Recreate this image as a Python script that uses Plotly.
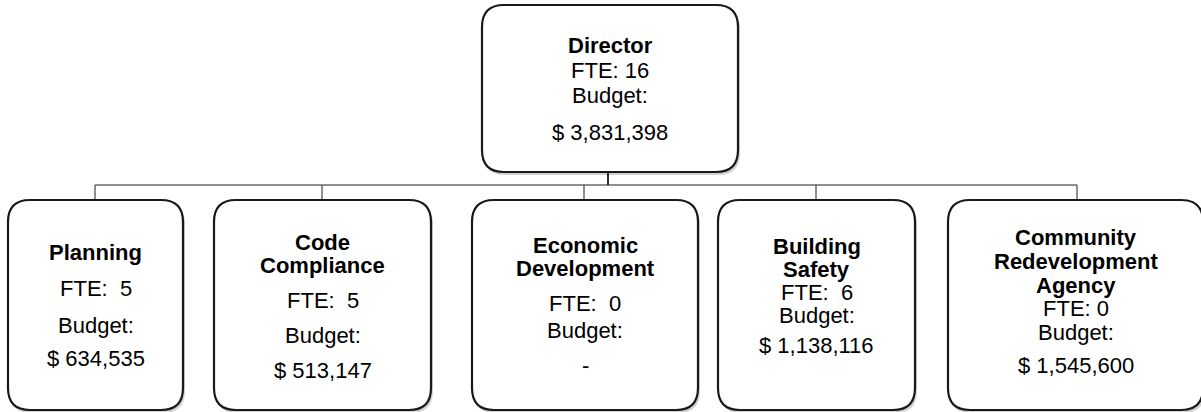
import plotly.graph_objects as go

# ---------------- data ----------------
units = ["Director", "Planning", "Code Compliance", "Economic Development",
         "Building Safety", "Community Redevelopment Agency"]
title_lines = [["Director"], ["Planning"], ["Code", "Compliance"],
               ["Economic", "Development"], ["Building", "Safety"],
               ["Community", "Redevelopment", "Agency"]]
fte = [16, 5, 5, 0, 6, 0]
budget = [3831398, 634535, 513147, 0, 1138116, 1545600]

# ---------------- layout (positions / styles) ----------------
W, H = 1201, 412
# box extents in pixels: (x0, x1, y0, y1)
boxes = [
    (482, 738, 5, 172),
    (8, 183, 200, 410),
    (214, 431, 200, 410),
    (472, 698, 200, 410),
    (718, 915, 200, 410),
    (948, 1203, 200, 410),
]
connector_x = [608, 95, 322, 584, 816, 1077]
bus_y = 185
# vertical centres of text lines: title lines..., FTE, Budget:, amount
line_y = [
    [45, 70, 95, 132],
    [252, 288, 325, 358],
    [242, 265, 300, 335, 370],
    [245, 268, 303, 330, 365],
    [246, 269, 292, 315, 345],
    [237, 261, 285, 308, 332, 365],
]
fte_sep = [" ", "\u00a0 ", "\u00a0 ", "\u00a0 ", "\u00a0 ", " "]
FONT = "Liberation Sans, Arial, sans-serif"
FS = 22
RADIUS = 22


def rrect(x0, x1, y0, y1, r):
    return (f"M {x0+r},{y0} L {x1-r},{y0} Q {x1},{y0} {x1},{y0+r} "
            f"L {x1},{y1-r} Q {x1},{y1} {x1-r},{y1} L {x0+r},{y1} "
            f"Q {x0},{y1} {x0},{y1-r} L {x0},{y0+r} Q {x0},{y0} {x0+r},{y0} Z")


shapes = []
annotations = []

# connectors
dx0, dx1, dy0, dy1 = boxes[0]
shapes.append(dict(type="line", x0=connector_x[0], x1=connector_x[0], y0=dy1, y1=bus_y,
                   line=dict(color="#1a1a1a", width=1.8), layer="below"))
shapes.append(dict(type="line", x0=min(connector_x[1:]), x1=max(connector_x[1:]), y0=bus_y, y1=bus_y,
                   line=dict(color="#222", width=1.2), layer="below"))
for i in range(1, len(units)):
    shapes.append(dict(type="line", x0=connector_x[i], x1=connector_x[i], y0=bus_y, y1=boxes[i][2],
                       line=dict(color="#444", width=1.2), layer="below"))

for i, (x0, x1, y0, y1) in enumerate(boxes):
    # shadow
    shapes.append(dict(type="path", path=rrect(x0 + 1, x1 + 2, y0 + 2, y1 + 3, RADIUS),
                       fillcolor="rgba(0,0,0,0.18)", line=dict(width=0), layer="below"))
    shapes.append(dict(type="path", path=rrect(x0, x1, y0, y1, RADIUS),
                       fillcolor="white", line=dict(color="#1a1a1a", width=2.2), layer="below"))
    cx = (x0 + x1) / 2
    amount = "-" if budget[i] == 0 else f"$ {budget[i]:,}"
    texts = [(t, True) for t in title_lines[i]] + [
        (f"FTE:{fte_sep[i]}{fte[i]}", False), ("Budget:", False), (amount, False)]
    for (t, bold), yy in zip(texts, line_y[i]):
        annotations.append(dict(
            x=cx, y=yy, xref="x", yref="y", showarrow=False,
            text=f"<b>{t}</b>" if bold else t,
            xanchor="center", yanchor="middle",
            font=dict(family=FONT, size=FS, color="#000")))

fig = go.Figure()
fig.add_trace(go.Scatter(x=[0, W], y=[0, H], mode="markers",
                         marker=dict(opacity=0), hoverinfo="skip", showlegend=False))
fig.update_layout(
    width=W, height=H, margin=dict(l=0, r=0, t=0, b=0),
    paper_bgcolor="white", plot_bgcolor="white",
    xaxis=dict(range=[0, W], visible=False, fixedrange=True),
    yaxis=dict(range=[H, 0], visible=False, fixedrange=True),
    shapes=shapes, annotations=annotations, showlegend=False,
)
fig.write_html("out.html", config={"displayModeBar": False},
               post_script="document.body.style.margin='0';")
